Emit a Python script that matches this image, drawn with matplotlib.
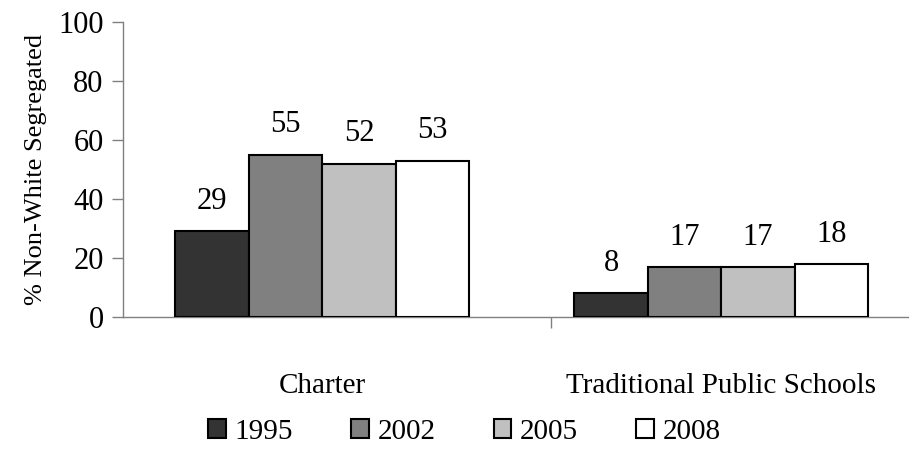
import matplotlib.pyplot as plt
import numpy as np

# data
categories = ['Charter', 'Traditional Public Schools']
years = ['1995', '2002', '2005', '2008']
values = [
    [29, 8],
    [55, 17],
    [52, 17],
    [53, 18],
]
colors = ['#333333', '#808080', '#c0c0c0', '#ffffff']

plt.rcParams['font.family'] = ['Liberation Serif', 'DejaVu Serif']

fig = plt.figure(figsize=(9.09, 4.53), dpi=100)
ax = fig.add_axes([0.1353, 0.3002, 0.8647, 0.6512])

x = np.arange(len(categories))
w = 0.184
for i, yr in enumerate(years):
    pos = x + (i - 1.5) * w
    bars = ax.bar(pos, values[i], w, color=colors[i], edgecolor='black',
                  linewidth=1.5, label=yr, zorder=3)
    for b, v in zip(bars, values[i]):
        ax.annotate(str(v), (b.get_x() + b.get_width() / 2, v),
                    xytext=(0, 11), textcoords='offset points',
                    ha='center', va='bottom', fontsize=22)

ax.set_ylim(0, 100)
ax.set_xlim(-0.499, 1.47)
ax.set_yticks(range(0, 101, 20))
ax.tick_params(axis='y', labelsize=22, length=8, color='#808080', width=1, pad=6)

ax.set_xticks(x)
ax.set_xticklabels(categories, fontsize=21)
ax.tick_params(axis='x', length=0, pad=40)
ax.set_xticks([0.574], minor=True)
ax.tick_params(axis='x', which='minor', length=8, color='#808080', width=1)

for s in ['top', 'right']:
    ax.spines[s].set_visible(False)
for s in ['left', 'bottom']:
    ax.spines[s].set_color('#808080')
    ax.spines[s].set_linewidth(1)

ax.set_ylabel('% Non-White Segregated', fontsize=19, labelpad=8)

fig.legend(loc='lower center', bbox_to_anchor=(0.511, -0.04), ncol=4,
           frameon=False, fontsize=21, handlelength=0.6, handleheight=0.6,
           handletextpad=0.3, columnspacing=2.0)

fig.savefig('out.png', dpi=100)
